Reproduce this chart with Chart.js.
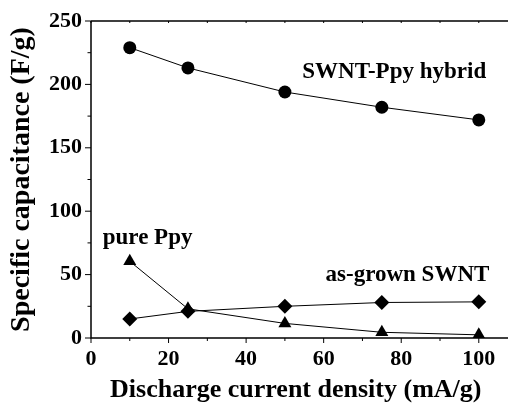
<!DOCTYPE html>
<html>
<head>
<meta charset="utf-8">
<script src="https://cdn.jsdelivr.net/npm/chart.js@4"></script>
<style>
  html, body { margin: 0; padding: 0; background: #fff; }
  #wrap { width: 508px; height: 406px; }
</style>
</head>
<body>
<div id="wrap"><canvas id="myChart"></canvas></div>
<script>
const currentDensity = [10, 25, 50, 75, 100];
const hybridValues = [229, 213, 194, 182, 172];
const pureValues = [60.5, 23, 11.5, 4.5, 2.5];
const swntValues = [15, 21, 25, 28, 28.5];

const xTickLabels = [0, 20, 40, 60, 80, 100];
const yTickLabels = [0, 50, 100, 150, 200, 250];

const labelNotes = [
  { text: 'SWNT-Ppy hybrid', x: 78.2, y: 210 },
  { text: 'pure Ppy', x: 14.6, y: 79 },
  { text: 'as-grown SWNT', x: 81.6, y: 50 }
];

const serif = "'Liberation Serif', 'Times New Roman', serif";

function toPoints(values) {
  return currentDensity.map((x, i) => ({ x: x, y: values[i] }));
}

const data = {
  datasets: [
    {
      label: 'SWNT-Ppy hybrid',
      data: toPoints(hybridValues),
      pointStyle: 'circle',
      pointRadius: 6.5
    },
    {
      label: 'pure Ppy',
      data: toPoints(pureValues),
      pointStyle: 'triangle',
      pointRadius: 7.5
    },
    {
      label: 'as-grown SWNT',
      data: toPoints(swntValues),
      pointStyle: 'rectRot',
      pointRadius: 7.5
    }
  ].map(ds => Object.assign(ds, {
    borderColor: '#000',
    backgroundColor: '#000',
    borderWidth: 1,
    pointBorderWidth: 0,
    showLine: true,
    tension: 0
  }))
};

// axes, tick marks and the text notes
const framePlugin = {
  id: 'frame',
  afterDatasetsDraw(chart) {
    const ctx = chart.ctx;
    const area = chart.chartArea;
    const xs = chart.scales.x;
    const ys = chart.scales.y;
    const rightEdge = chart.width;   // axis lines run off the right edge
    ctx.save();
    ctx.strokeStyle = '#000';
    ctx.lineWidth = 1.5;
    ctx.beginPath();
    ctx.moveTo(area.left, area.top);
    ctx.lineTo(area.left, area.bottom);
    ctx.lineTo(rightEdge, area.bottom);
    ctx.moveTo(area.left, area.top);
    ctx.lineTo(rightEdge, area.top);
    ctx.stroke();

    ctx.lineWidth = 1;
    ctx.beginPath();
    xs.ticks.forEach(t => {
      const px = xs.getPixelForValue(t.value);
      const len = t.value % 20 === 0 ? 5 : 3;
      ctx.moveTo(px, area.bottom);
      ctx.lineTo(px, area.bottom + len);
      ctx.moveTo(px, area.top);
      ctx.lineTo(px, area.top + 2);
    });
    ys.ticks.forEach(t => {
      const py = ys.getPixelForValue(t.value);
      const len = t.value % 50 === 0 ? 6 : 3.5;
      ctx.moveTo(area.left, py);
      ctx.lineTo(area.left - len, py);
    });
    ctx.stroke();

    ctx.fillStyle = '#000';
    ctx.font = 'bold 23px ' + serif;
    ctx.textAlign = 'center';
    ctx.textBaseline = 'middle';
    labelNotes.forEach(n => {
      ctx.fillText(n.text, xs.getPixelForValue(n.x), ys.getPixelForValue(n.y));
    });
    ctx.restore();
  }
};

const options = {
  responsive: true,
  maintainAspectRatio: false,
  animation: false,
  layout: { padding: { top: 21, right: 0, left: 0, bottom: 0 } },
  plugins: {
    legend: { display: false },
    tooltip: { enabled: false }
  },
  scales: {
    x: {
      type: 'linear',
      min: 0,
      max: 105.6,
      grid: { display: false, drawTicks: false },
      border: { display: false },
      afterFit: s => {
        s.height = 68;
        s.paddingLeft = 0;
        s.paddingRight = 0;
      },
      afterBuildTicks: s => {
        s.ticks = [];
        for (let v = 0; v <= 100; v += 10) s.ticks.push({ value: v });
      },
      ticks: {
        autoSkip: false,
        maxRotation: 0,
        padding: 8,
        color: '#000',
        font: { family: serif, size: 22, weight: 'bold' },
        callback: v => xTickLabels.includes(v) ? String(v) : ''
      },
      title: {
        display: true,
        text: 'Discharge current density (mA/g)',
        color: '#000',
        font: { family: serif, size: 26, weight: 'bold' },
        padding: { top: 0, bottom: 0 }
      }
    },
    y: {
      type: 'linear',
      min: 0,
      max: 250,
      grid: { display: false, drawTicks: false },
      border: { display: false },
      afterFit: s => {
        s.width = 91;
        s.paddingTop = 0;
        s.paddingBottom = 0;
      },
      afterBuildTicks: s => {
        s.ticks = [];
        for (let v = 0; v <= 250; v += 25) s.ticks.push({ value: v });
      },
      ticks: {
        autoSkip: false,
        padding: 9,
        color: '#000',
        font: { family: serif, size: 22, weight: 'bold' },
        callback: v => yTickLabels.includes(v) ? String(v) : ''
      },
      title: {
        display: true,
        text: 'Specific capacitance (F/g)',
        color: '#000',
        font: { family: serif, size: 28, weight: 'bold' },
        padding: { top: 5, bottom: 0 }
      }
    }
  }
};

const config = {
  type: 'scatter',
  data: data,
  options: options,
  plugins: [framePlugin]
};

const myChart = new Chart(document.getElementById('myChart'), config);
</script>
</body>
</html>
